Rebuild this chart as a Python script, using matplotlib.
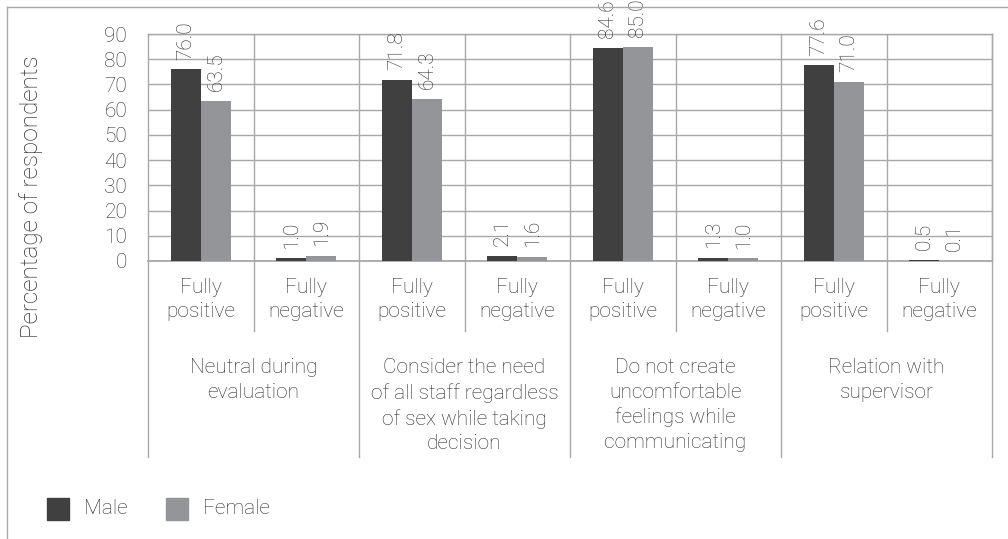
import matplotlib
matplotlib.use("Agg")
import matplotlib.pyplot as plt
import matplotlib.transforms as mtransforms
from matplotlib.lines import Line2D
from matplotlib.patches import Rectangle
import numpy as np

groups = ["Neutral during\nevaluation",
          "Consider the need\nof all staff regardless\nof sex while taking\ndecision",
          "Do not create\nuncomfortable\nfeelings while\ncommunicating",
          "Relation with\nsupervisor"]
subcats = ["Fully\npositive", "Fully\nnegative"]
male = [76.0, 1.0, 71.8, 2.1, 84.6, 1.3, 77.6, 0.5]
female = [63.5, 1.9, 64.3, 1.6, 85.0, 1.0, 71.0, 0.1]
series_names = ["Male", "Female"]
yticks = [0, 10, 20, 30, 40, 50, 60, 70, 80, 90]

plt.rcParams['font.family'] = ['Roboto', 'DejaVu Sans']
FW = 'light'
TXT = '#2e2e2e'
GRID = '#a8a8a8'
C_MALE = '#404040'
C_FEMALE = '#939598'
FS = 15

W, H = 1008, 539
fig = plt.figure(figsize=(W/100, H/100), dpi=100)
x0, x1, ytop, ybot = 148, 992, 34, 261
ax = fig.add_axes([x0/W, (H-ybot)/H, (x1-x0)/W, (ybot-ytop)/H])

n = len(male)
x = np.arange(n)
bw = 0.285
ax.bar(x - bw/2, male, bw, color=C_MALE, zorder=3)
ax.bar(x + bw/2, female, bw, color=C_FEMALE, zorder=3)

ax.set_xlim(-0.5, n - 0.5)
ax.set_ylim(0, 90)
ax.set_yticks(yticks)
ax.set_yticklabels([str(v) for v in yticks], fontsize=FS, color=TXT, fontweight=FW)
ax.tick_params(axis='y', length=0, pad=15)
ax.set_xticks([])
ax.grid(axis='y', color=GRID, lw=1, zorder=0)
for s in ax.spines.values():
    s.set_color(GRID)
    s.set_linewidth(1)
ax.spines['left'].set_visible(False)
ax.spines['bottom'].set_visible(False)

for v, lbl_x in zip(male + female, list(x - bw/2) + list(x + bw/2)):
    ax.annotate(f"{v:.1f}", (lbl_x, v), xytext=(0, 7), textcoords='offset points',
                rotation=90, ha='center', va='bottom', fontsize=FS, color=TXT,
                annotation_clip=False, fontweight=FW)

trans = mtransforms.blended_transform_factory(ax.transData, ax.transAxes)
ph = ybot - ytop
def ax_y(py):
    return (ybot - py) / ph

# category boundaries
for b in np.arange(-0.5, n, 1.0):
    is_group = (round(b + 0.5) % 2 == 0)
    ylow = ax_y(457) if is_group else ax_y(331)
    ax.add_line(Line2D([b, b], [ylow, 1], transform=trans, color=GRID, lw=1,
                       clip_on=False, zorder=2))
ax.add_line(Line2D([-0.5, n - 0.5], [0, 0], transform=trans, color=GRID, lw=1.3,
                   clip_on=False, zorder=2))

for i in range(n):
    ax.text(i, ax_y(278), subcats[i % 2], transform=trans, ha='center', va='top',
            fontsize=FS, color=TXT, linespacing=1.35, fontweight=FW)
for g, name in enumerate(groups):
    ax.text(2*g + 0.5, ax_y(358), name, transform=trans, ha='center', va='top',
            fontsize=FS, color=TXT, linespacing=1.38, fontweight=FW)

fig.text(31/W, 1 - 197/H, "Percentage of respondents", rotation=90, ha='center',
         va='center', fontsize=17.5, color=TXT, fontweight=FW)

# legend
for (sx, tx, col, name) in [(47, 84, C_MALE, series_names[0]), (166, 203, C_FEMALE, series_names[1])]:
    fig.add_artist(Rectangle((sx/W, 1 - 520/H), 22/W, 22/H, transform=fig.transFigure,
                             color=col))
    fig.text(tx/W, 1 - 509/H, name, ha='left', va='center', fontsize=FS, color=TXT,
             fontweight=FW)

# outer frame
fig.add_artist(Line2D([7/W, 1.0], [1 - 7/H, 1 - 7/H], transform=fig.transFigure, color=GRID, lw=1))
fig.add_artist(Line2D([7/W, 7/W], [0, 1 - 7/H], transform=fig.transFigure, color=GRID, lw=1))

fig.savefig("out.png", dpi=100, facecolor='white')
